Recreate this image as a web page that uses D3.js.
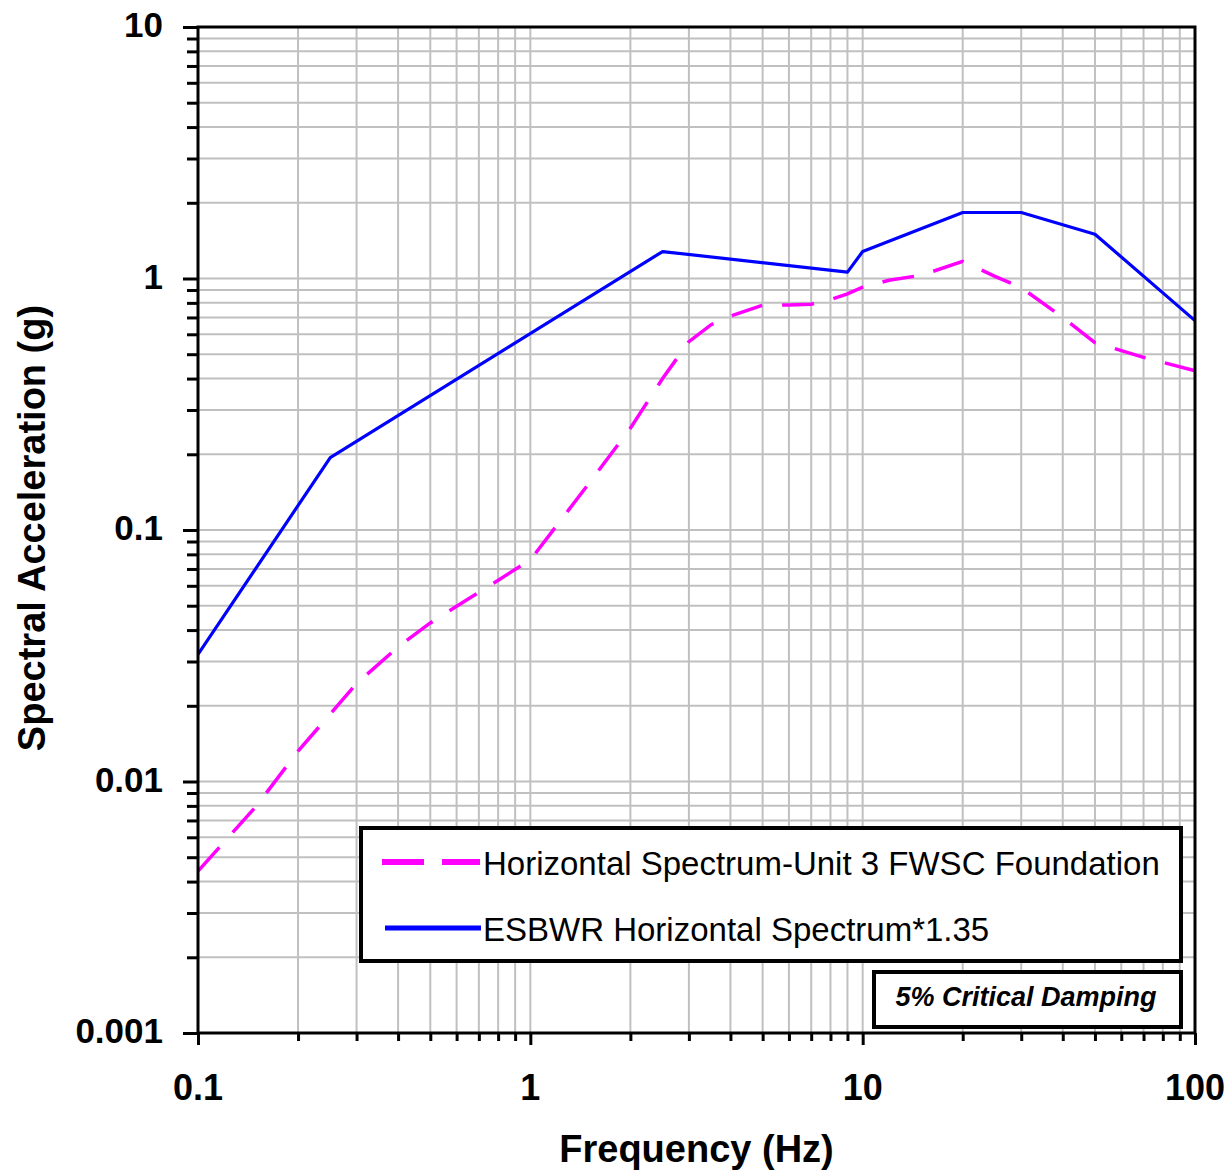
<!DOCTYPE html>
<html>
<head>
<meta charset="utf-8">
<script src="https://cdn.jsdelivr.net/npm/d3@7"></script>
<style>
  html, body { margin: 0; padding: 0; background: #fff; }
  svg { display: block; font-family: "Liberation Sans", Arial, sans-serif; }
</style>
</head>
<body>
<svg id="chart" width="1230" height="1172"></svg>
<script>
// ---- Data ----
const freqMag = [0.1, 0.15, 0.2, 0.3, 0.4, 0.5, 0.7, 1.0, 1.5, 2.0, 2.5, 3.0, 3.5, 4, 5, 6, 7, 8, 9, 10, 12, 15, 20, 25, 30, 40, 50, 70, 100];
const accMag  = [0.0044, 0.0080, 0.0132, 0.0245, 0.0343, 0.0427, 0.0565, 0.076, 0.153, 0.254, 0.40, 0.561, 0.655, 0.709, 0.783, 0.785, 0.79, 0.824, 0.869, 0.923, 0.984, 1.03, 1.17, 1.02, 0.92, 0.70, 0.556, 0.486, 0.43];

const freqBlue = [0.1, 0.25, 2.5, 9, 10, 20, 30, 50, 100];
const accBlue  = [0.032, 0.194, 1.28, 1.06, 1.28, 1.83, 1.83, 1.50, 0.68];

const seriesNames = ["Horizontal Spectrum-Unit 3 FWSC Foundation", "ESBWR Horizontal Spectrum*1.35"];
const xTickLabels = ["0.1", "1", "10", "100"];
const xTickValues = [0.1, 1, 10, 100];
const yTickLabels = ["0.001", "0.01", "0.1", "1", "10"];
const yTickValues = [0.001, 0.01, 0.1, 1, 10];
const xTitle = "Frequency (Hz)";
const yTitle = "Spectral Acceleration (g)";
const noteText = "5% Critical Damping";

// ---- Layout ----
const L = 198, R = 1195, T = 27, B = 1033;
const svg = d3.select("#chart");
const x = d3.scaleLog().domain([0.1, 100]).range([L, R]);
const y = d3.scaleLog().domain([0.001, 10]).range([B, T]);

function minorTicks(lo, hi) {
  const out = [];
  for (let d = lo; d < hi; d *= 10) {
    for (let k = 1; k <= 9; k++) out.push(+(d * k).toPrecision(6));
  }
  out.push(hi);
  return out;
}
const xAll = minorTicks(0.1, 100);
const yAll = minorTicks(0.001, 10);

// Gridlines
const grid = svg.append("g").attr("stroke", "#c0c0c0").attr("stroke-width", 2);
grid.selectAll("line.gx").data(xAll).enter().append("line")
  .attr("x1", d => x(d)).attr("x2", d => x(d)).attr("y1", T).attr("y2", B);
grid.selectAll("line.gy").data(yAll).enter().append("line")
  .attr("x1", L).attr("x2", R).attr("y1", d => y(d)).attr("y2", d => y(d));

// Axes ticks via d3 axis
const isMajor = v => Math.abs(Math.log10(v) - Math.round(Math.log10(v))) < 1e-6;

const yAxisG = svg.append("g").attr("transform", `translate(${L},0)`)
  .call(d3.axisLeft(y).tickValues(yAll).tickFormat("").tickSizeOuter(0));
yAxisG.select(".domain").remove();
yAxisG.selectAll(".tick line")
  .attr("x2", d => isMajor(d) ? -15 : -11)
  .attr("stroke", "#000").attr("stroke-width", 3);

const xAxisG = svg.append("g").attr("transform", `translate(0,${B})`)
  .call(d3.axisBottom(x).tickValues(xAll).tickFormat("").tickSizeOuter(0));
xAxisG.select(".domain").remove();
xAxisG.selectAll(".tick line")
  .attr("y2", d => isMajor(d) ? 12 : 8)
  .attr("stroke", "#000").attr("stroke-width", 3);

// Tick labels
svg.append("g").selectAll("text").data(yTickValues).enter().append("text")
  .attr("x", 163).attr("y", d => y(d) + 10)
  .attr("text-anchor", "end")
  .attr("font-size", 35).attr("font-weight", "bold")
  .text((d, i) => yTickLabels[i]);

svg.append("g").selectAll("text").data(xTickValues).enter().append("text")
  .attr("x", d => x(d)).attr("y", 1100)
  .attr("text-anchor", "middle")
  .attr("font-size", 36).attr("font-weight", "bold")
  .text((d, i) => xTickLabels[i]);

// Axis titles
svg.append("text")
  .attr("x", (L + R) / 2).attr("y", 1162)
  .attr("text-anchor", "middle").attr("font-size", 38).attr("font-weight", "bold")
  .text(xTitle);
svg.append("text")
  .attr("transform", `translate(45,${(T + B) / 2 - 2}) rotate(-90)`)
  .attr("text-anchor", "middle").attr("font-size", 38).attr("font-weight", "bold")
  .text(yTitle);

// Series lines
const line = d3.line().x(d => x(d[0])).y(d => y(d[1]));
const magData = freqMag.map((f, i) => [f, accMag[i]]);
const blueData = freqBlue.map((f, i) => [f, accBlue[i]]);

svg.append("path").datum(blueData)
  .attr("d", line).attr("fill", "none")
  .attr("stroke", "#0000ff").attr("stroke-width", 3.2).attr("stroke-linejoin", "round");
svg.append("path").datum(magData)
  .attr("d", line).attr("fill", "none")
  .attr("stroke", "#ff00ff").attr("stroke-width", 3.5)
  .attr("stroke-dasharray", "32,20");

// Plot frame
svg.append("rect").attr("x", L).attr("y", T).attr("width", R - L).attr("height", B - T)
  .attr("fill", "none").attr("stroke", "#000").attr("stroke-width", 3);

// Legend box
const lg = svg.append("g");
lg.append("rect").attr("x", 361).attr("y", 828).attr("width", 820).attr("height", 133)
  .attr("fill", "#fff").attr("stroke", "#000").attr("stroke-width", 4);
lg.append("line").attr("x1", 382).attr("x2", 480).attr("y1", 862).attr("y2", 862)
  .attr("stroke", "#ff00ff").attr("stroke-width", 6).attr("stroke-dasharray", "42,18");
lg.append("line").attr("x1", 385).attr("x2", 481).attr("y1", 928).attr("y2", 928)
  .attr("stroke", "#0000ff").attr("stroke-width", 5);
lg.append("text").attr("x", 483).attr("y", 875).attr("font-size", 33).text(seriesNames[0]);
lg.append("text").attr("x", 483).attr("y", 941).attr("font-size", 33).text(seriesNames[1]);

// Damping note box
const nb = svg.append("g");
nb.append("rect").attr("x", 874).attr("y", 972).attr("width", 307).attr("height", 55)
  .attr("fill", "#fff").attr("stroke", "#000").attr("stroke-width", 4);
nb.append("text").attr("x", 1026).attr("y", 1006).attr("text-anchor", "middle")
  .attr("font-size", 27).attr("font-weight", "bold").attr("font-style", "italic")
  .text(noteText);
</script>
</body>
</html>
